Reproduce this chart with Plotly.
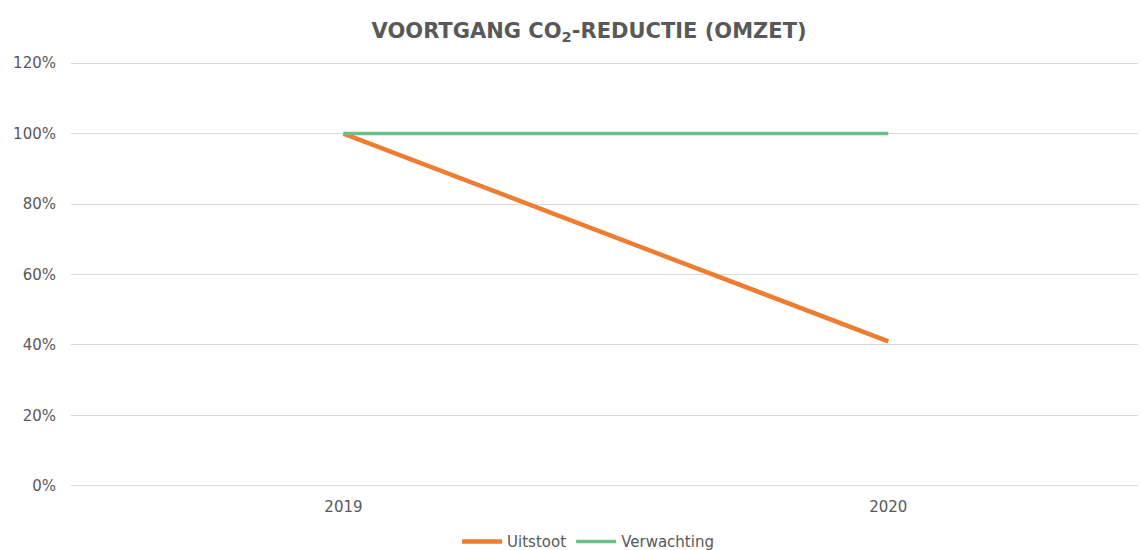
import plotly.graph_objects as go

years = ["2019", "2020"]
uitstoot = [1.00, 0.41]
verwachting = [1.00, 1.00]
y_ticks = [0, 0.2, 0.4, 0.6, 0.8, 1.0, 1.2]
y_labels = ["0%", "20%", "40%", "60%", "80%", "100%", "120%"]

xpos = list(range(len(years)))

fig = go.Figure()
fig.add_trace(go.Scatter(x=xpos, y=uitstoot, mode="lines", name="Uitstoot",
                         line=dict(color="#ED7D31", width=4.5)))
fig.add_trace(go.Scatter(x=xpos, y=verwachting, mode="lines", name="Verwachting",
                         line=dict(color="#6BBF8A", width=3.5)))

fig.update_layout(
    width=1138, height=542,
    paper_bgcolor="white", plot_bgcolor="white",
    margin=dict(l=63, r=0, t=53, b=62, autoexpand=False),
    font=dict(family="DejaVu Sans, Verdana, sans-serif", color="#595959", size=15),
    title=dict(text="<b>VOORTGANG CO<sub>2</sub>-REDUCTIE (OMZET)</b>",
               x=0.5106, xanchor="center", y=0.959, yanchor="middle",
               font=dict(size=21, color="#595959")),
    showlegend=True,
    legend=dict(orientation="h", x=0.481, xanchor="center", y=-0.126, yanchor="middle",
                font=dict(size=15, color="#595959"), itemwidth=40, tracegroupgap=0),
)
fig.update_xaxes(range=[-0.5, 1.473], tickmode="array", tickvals=xpos, ticktext=years,
                 showgrid=False, zeroline=False, showline=False, ticks="",
                 automargin=False, ticklabelstandoff=8,
                 tickfont=dict(size=15, color="#595959"), fixedrange=True)
fig.update_yaxes(range=[-0.006, 1.206], tickmode="array", tickvals=y_ticks, ticktext=y_labels,
                 showgrid=True, gridcolor="#D9D9D9", gridwidth=1, zeroline=False,
                 showline=False, ticks="", ticklabelstandoff=14, automargin=False,
                 tickfont=dict(size=15, color="#595959"), fixedrange=True)

fig.write_html("out.html")
